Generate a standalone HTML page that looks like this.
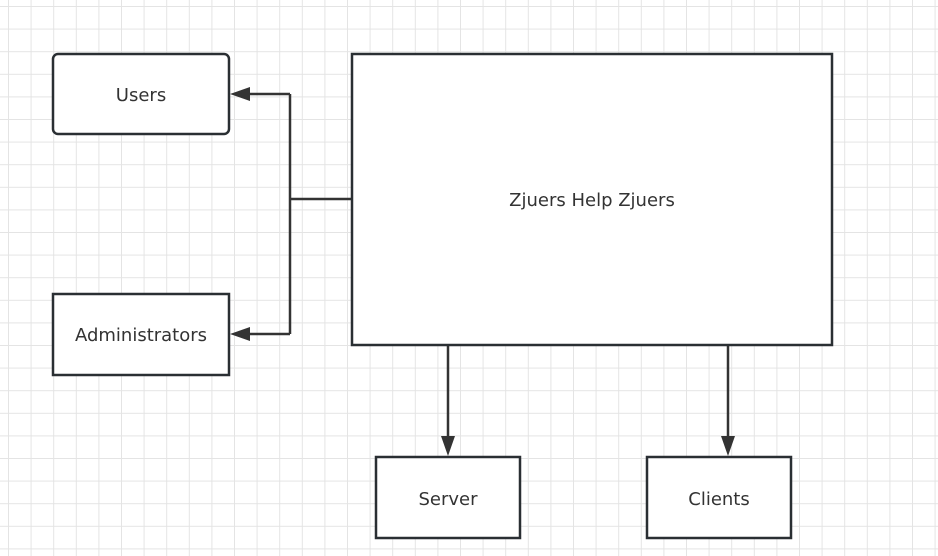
<!DOCTYPE html>
<html><head><style>
html,body{margin:0;padding:0;background:#fff}
svg{display:block}
text{font-family:"DejaVu Sans","Liberation Sans",sans-serif;font-size:18px;fill:#333}
</style></head><body>
<svg width="938" height="556" viewBox="0 0 938 556" xmlns="http://www.w3.org/2000/svg">
<defs>
<pattern id="g" x="8" y="6" width="22.6" height="22.6" patternUnits="userSpaceOnUse">
<path d="M0 0H22.6M0 0V22.6" stroke="#e4e4e4" stroke-width="2" fill="none"/>
</pattern>
</defs>
<rect width="938" height="556" fill="url(#g)"/>
<g stroke="#333" stroke-width="2.5" fill="none">
<path d="M352 199H290M290 94V334M290 94H246M290 334H246"/>
<path d="M448 345V440M728 345V440"/>
</g>
<g fill="#333">
<polygon points="230,94 250,87 250,101"/>
<polygon points="230,334 250,327 250,341"/>
<polygon points="448,456 441,436 455,436"/>
<polygon points="728,456 721,436 735,436"/>
</g>
<g stroke="#2a2f33" stroke-width="2.5" fill="#fff">
<rect x="53" y="54" width="176" height="80" rx="5"/>
<rect x="53" y="294" width="176" height="81"/>
<rect x="352" y="54" width="480" height="291"/>
<rect x="376" y="457" width="144" height="81"/>
<rect x="647" y="457" width="144" height="81"/>
</g>
<g text-anchor="middle">
<text x="141" y="101">Users</text>
<text x="141" y="341">Administrators</text>
<text x="592" y="206">Zjuers Help Zjuers</text>
<text x="448" y="505">Server</text>
<text x="719" y="505">Clients</text>
</g>
</svg>
</body></html>
